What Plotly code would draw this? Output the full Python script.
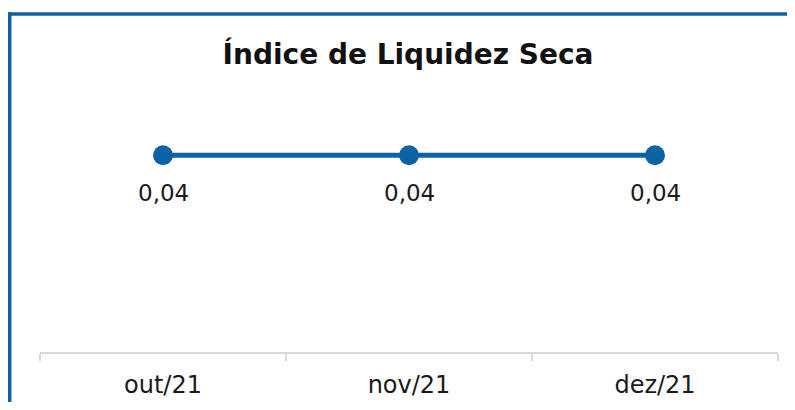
import plotly.graph_objects as go

categories = ["out/21", "nov/21", "dez/21"]
values = [0.04, 0.04, 0.04]
value_labels = ["0,04", "0,04", "0,04"]

BLUE = "#0B63A3"
GRAY = "#D9D9D9"
FONT = "'DejaVu Sans', sans-serif"
OFF = 8  # body margin of the page

W, H = 795 - OFF, 410 - 2 * OFF
L, R = 40 - OFF, 17
T = 106 - OFF
B = H - (352 - OFF)
pw, ph = W - L - R, H - T - B

def px_x(p):
    return (p - OFF - L) / pw

def px_y(p):
    return (H - B - (p - OFF)) / ph

fig = go.Figure()
fig.add_trace(go.Scatter(
    x=categories, y=values, mode="lines+markers",
    line=dict(color=BLUE, width=5),
    marker=dict(color=BLUE, size=20),
    cliponaxis=False, hoverinfo="skip",
))
for c, v, t in zip(categories, values, value_labels):
    fig.add_annotation(x=c, y=v, text=t, showarrow=False, yshift=-38,
                       yanchor="middle", font=dict(size=23, color="#1a1a1a", family=FONT))

# frame border: top and left edges (right/bottom are off-canvas)
fig.add_shape(type="line", xref="paper", yref="paper",
              x0=px_x(8), x1=px_x(800), y0=px_y(14), y1=px_y(14),
              line=dict(color=BLUE, width=3.5), layer="below")
fig.add_shape(type="line", xref="paper", yref="paper",
              x0=px_x(9.75), x1=px_x(9.75), y0=px_y(12.25), y1=px_y(415),
              line=dict(color=BLUE, width=3.5), layer="below")

fig.update_layout(
    width=W, height=H,
    margin=dict(l=L, r=R, t=T, b=B, autoexpand=False),
    paper_bgcolor="white", plot_bgcolor="white",
    showlegend=False,
    title=dict(text="<b>Índice de Liquidez Seca</b>", x=(408 - OFF) / W, xanchor="center",
               y=1 - (54 - OFF) / H, yanchor="middle",
               font=dict(size=28, color="#111111", family=FONT)),
    font=dict(family=FONT),
)
fig.update_xaxes(
    type="category", showgrid=False, showline=True, linecolor=GRAY, linewidth=1.5,
    ticks="outside", tickson="boundaries", ticklen=7, tickcolor=GRAY, tickwidth=1.5,
    tickfont=dict(size=24, color="#1a1a1a", family=FONT), ticklabelstandoff=10,
    range=[-0.5, 2.5], fixedrange=True, automargin=False,
)
fig.update_yaxes(range=[0, 0.05], visible=False, showgrid=False, zeroline=False)

fig.write_html("out.html")
